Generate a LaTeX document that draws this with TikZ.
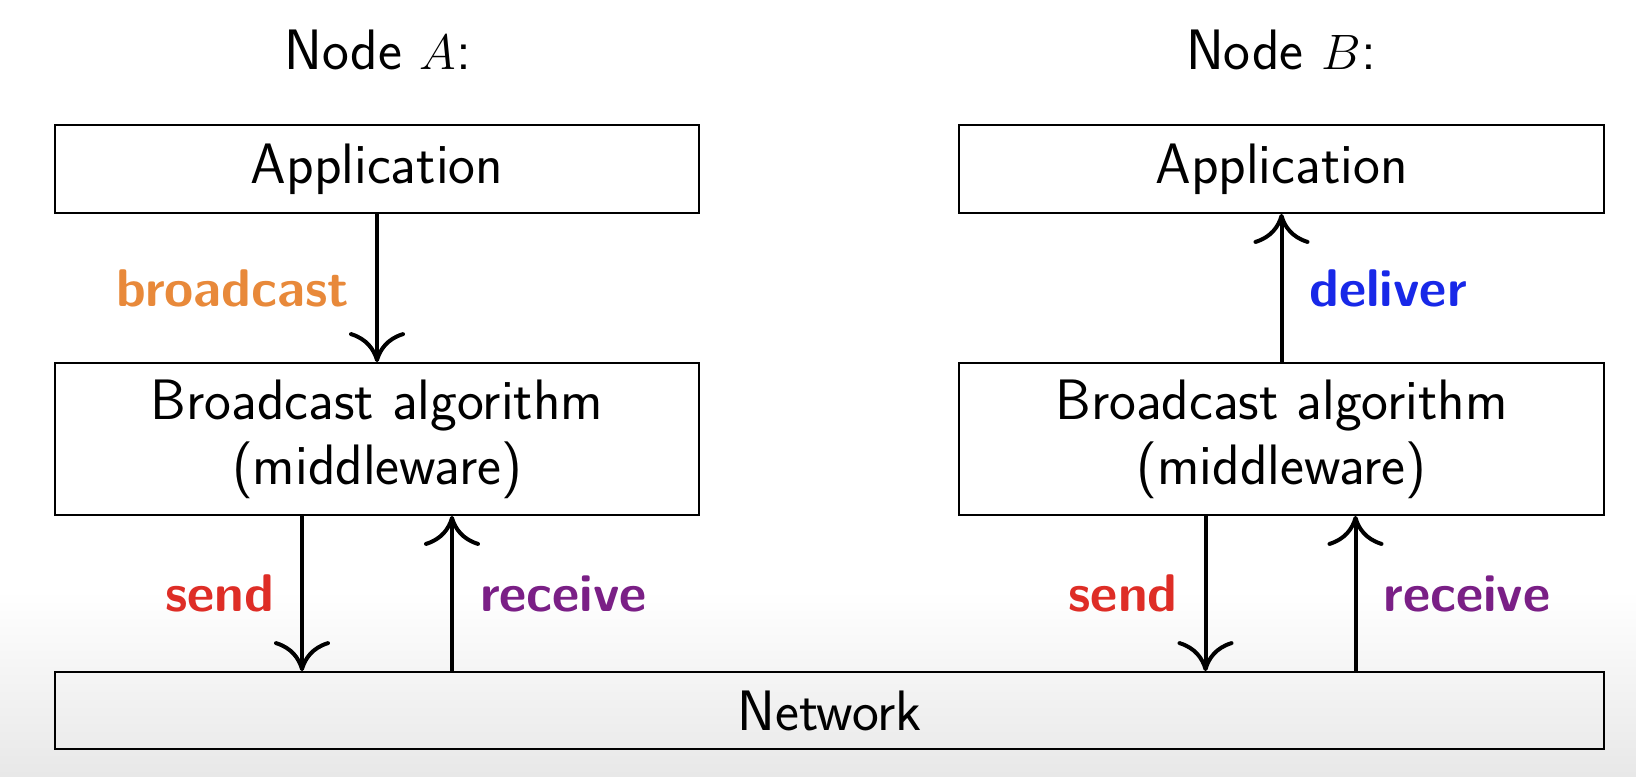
\documentclass[tikz,border=0pt]{standalone}
\usepackage{fontspec}
\usetikzlibrary{arrows.meta}
\definecolor{orangeL}{RGB}{232,137,58}
\definecolor{redL}{RGB}{222,45,38}
\definecolor{purpleL}{RGB}{122,31,134}
\definecolor{blueL}{RGB}{24,40,232}
\definecolor{bgL}{RGB}{232,232,232}
\begin{document}
\begin{tikzpicture}[x=0.5pt,y=-0.5pt,
  every node/.style={font=\sffamily\fontsize{28.5}{32.5}\selectfont},
  box/.style={draw, line width=0.9pt, inner sep=0pt, align=center},
  arr/.style={line width=2pt, -{Computer Modern Rightarrow[length=15pt,width=28pt]}},
  lbl/.style={font=\sffamily\bfseries\fontsize{26.5}{33}\selectfont, inner sep=0pt}
]
\useasboundingbox (0,0) rectangle (1636,776);
\shade[top color=white, bottom color=bgL] (0,590) rectangle (1636,776);

\node (titleA) at (378,50) {Node $A$:};
\node (titleB) at (1281,50) {Node $B$:};

\node[box, minimum width=322pt, minimum height=44pt] (appA) at (377,169) {Application};
\node[box, minimum width=322pt, minimum height=76pt] (bcA) at (377,439) {Broadcast algorithm\\(middleware)};
\node[box, minimum width=322.5pt, minimum height=44pt] (appB) at (1281.5,169) {Application};
\node[box, minimum width=322.5pt, minimum height=76pt] (bcB) at (1281.5,439) {Broadcast algorithm\\(middleware)};
\node[box, minimum width=774.5pt, minimum height=38.5pt] (net) at (829.5,710.5) {Network};

\draw[arr] (appA.south) -- node[lbl, text=orangeL, left=13pt] {broadcast} (bcA.north);
\draw[arr] ([xshift=-37.5pt]bcA.south) -- node[lbl, text=redL, left=13pt] {send} ([xshift=-37.5pt]bcA.south |- net.north);
\draw[arr] ([xshift=37.5pt]bcA.south |- net.north) -- node[lbl, text=purpleL, right=13pt] {receive} ([xshift=37.5pt]bcA.south);

\draw[arr] (bcB.north) -- node[lbl, text=blueL, right=13pt] {deliver} (appB.south);
\draw[arr] ([xshift=-38pt]bcB.south) -- node[lbl, text=redL, left=13pt] {send} ([xshift=-38pt]bcB.south |- net.north);
\draw[arr] ([xshift=37pt]bcB.south |- net.north) -- node[lbl, text=purpleL, right=13pt] {receive} ([xshift=37pt]bcB.south);
\end{tikzpicture}
\end{document}
